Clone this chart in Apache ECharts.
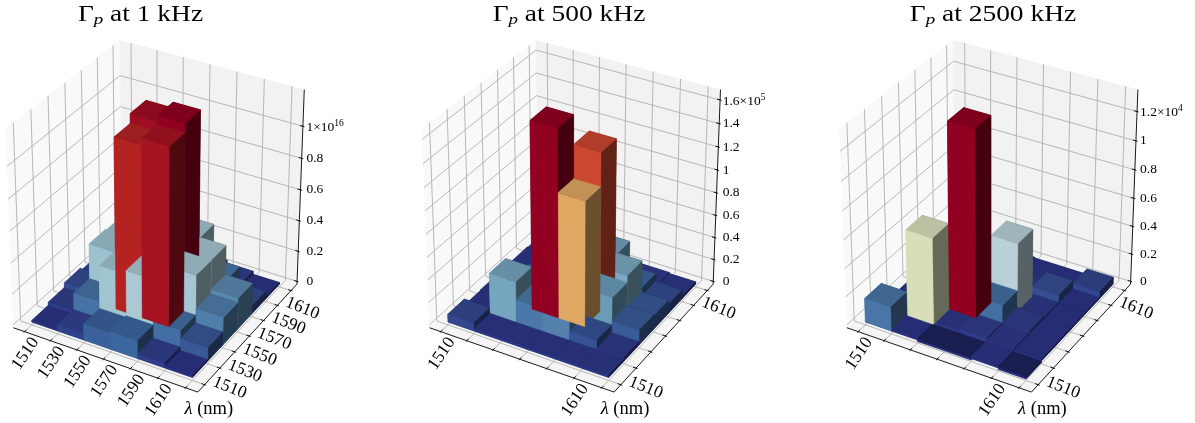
<!DOCTYPE html>
<html><head><meta charset="utf-8">
<style>html,body{margin:0;padding:0;background:#fff}#c{width:1195px;height:423px}</style>
<script src="https://cdn.jsdelivr.net/npm/echarts@6/dist/echarts.min.js"></script>
</head><body><div id="c"></div>
<script>
// ---------- values (rows: y index front to back, columns: x index left to right)
const gamma1kHz = [
  [.01,.04,.105,.115,.03,.01],
  [.03,.145,.38,.405,.135,.085],
  [.06,.37,1.09,1.13,.39,.175],
  [.04,.36,1.15,1.185,.39,.2],
  [.015,.05,.31,.38,.155,.05],
  [.01,.02,.05,.05,.03,.01]
];
const gamma500kHz = [
  [.07,.02,.02,.02,.02,.02],
  [.015,.38,.22,.25,.10,.03],
  [.02,.03,1.64,1.10,.34,.13],
  [.02,.13,.20,1.39,.40,.12],
  [.02,.03,.15,.37,.15,.08],
  [.01,.02,.02,.03,.03,.02]
];
const gamma2500kHz = [
  [.17,.01,-.01,-.01,.01,-.01],
  [.005,.61,.02,.03,.02,.01],
  [.01,.02,1.305,.15,.03,.01],
  [.01,.02,.03,.485,.02,.01],
  [.01,.01,.02,.02,.07,.01],
  [.01,.01,.015,.01,.01,.05]
];
const titles = ['1 kHz','500 kHz','2500 kHz'];
const ticks1kHz = ['1510','1530','1550','1570','1590','1610',''];
const ticksSparse = ['1510','','','','','1610',''];
const zTicks1kHz = [0,.2,.4,.6,.8,1];
const zTicks500kHz = [0,.2,.4,.6,.8,1,1.2,1.4,1.6];
const zTicks2500kHz = [0,.2,.4,.6,.8,1,1.2];
const zExponents = ['16','5','4'];
const zTops = [1.2,1.653,1.32];

// ---------- layout
const SX=2045, SY=2179, CX=[157.4,573.6,991], CY=209.8, PANEL_W=[400,400,395], PANEL_L=[0,400,800];
const TITLE_X=[140.5,569,993];
const MARGIN=0.3, NX=6, PAD=1/48;
const RAMP=['#313695','#4575b4','#74add1','#abd9e9','#e0f3f8','#ffffbf','#fee090','#fdae61','#f46d43','#d73027','#a50026'];
const FONT='"Liberation Serif"';

// ---------- projection: elevation 30, azimuth -60, distance 10, unit box
const rad=Math.PI/180, el=30*rad, az=-60*rad;
const w=[Math.cos(el)*Math.cos(az),Math.cos(el)*Math.sin(az),Math.sin(el)];
const u=[-w[1],w[0],0].map(v=>v/Math.hypot(w[0],w[1]));
const v=[w[1]*u[2]-w[2]*u[1],w[2]*u[0]-w[0]*u[2],w[0]*u[1]-w[1]*u[0]];
const dot=(a,b)=>a[0]*b[0]+a[1]*b[1]+a[2]*b[2];
function project(n){
  const q=[n[0]-.5,n[1]-.5,n[2]-.5], d=10-dot(w,q);
  return {X:dot(u,q)/d,Y:dot(v,q)/d,depth:-10/d};
}
const nxy=t=>(t+MARGIN)/(NX+2*MARGIN);
function hexRgb(h){return [1,3,5].map(i=>parseInt(h.substr(i,2),16));}
function colormap(t){
  t=Math.max(0,Math.min(1,t))*(RAMP.length-1);
  const i=Math.min(Math.floor(t),RAMP.length-2),f=t-i,a=hexRgb(RAMP[i]),b=hexRgb(RAMP[i+1]);
  return a.map((c,k)=>c+(b[k]-c)*f);
}
const light=[-2/3,-2/3,1/3];
const shadeOf=nrm=>.3+.7*(dot(nrm,light)+1)/2;
function buildFaces(values,zTop){
  const zLo=.005*zTop, nz=z=>(z-zLo)/(zTop-zLo);
  const maxV=Math.max(...values.flat());
  const out=[];
  values.forEach((row,j)=>row.forEach((val,i)=>{
    const x0=nxy(i),x1=nxy(i+1),y0=nxy(j),y1=nxy(j+1),z0=nz(0),z1=nz(val);
    const rgb=colormap(val/maxV);
    [
      [[[x0,y0,z0],[x0,y1,z0],[x1,y1,z0],[x1,y0,z0]],[0,0,-1]],
      [[[x0,y0,z1],[x1,y0,z1],[x1,y1,z1],[x0,y1,z1]],[0,0,1]],
      [[[x0,y0,z0],[x1,y0,z0],[x1,y0,z1],[x0,y0,z1]],[0,-1,0]],
      [[[x0,y1,z0],[x0,y1,z1],[x1,y1,z1],[x1,y1,z0]],[0,1,0]],
      [[[x0,y0,z0],[x0,y0,z1],[x0,y1,z1],[x0,y1,z0]],[-1,0,0]],
      [[[x1,y0,z0],[x1,y1,z0],[x1,y1,z1],[x1,y0,z1]],[1,0,0]]
    ].forEach(([poly,nrm])=>{
      const p=poly.map(project), s=shadeOf(nrm);
      out.push({pts:p.map(a=>[a.X,a.Y]),depth:p.reduce((t,a)=>t+a.depth,0)/4,
        fill:'rgb('+rgb.map(c=>Math.round(c*s)).join(',')+')'});
    });
  }));
  return out.map((f,k)=>[f,k]).sort((a,b)=>b[0].depth-a[0].depth||a[1]-b[1]).map(a=>a[0]);
}
function buildGuides(zTicks,zTop){
  const zLo=.005*zTop,nz=z=>(z-zLo)/(zTop-zLo),lo=-PAD,hi=1+PAD,g=[];
  const P=(a,fill)=>g.push({pts:a.map(project).map(p=>[p.X,p.Y]),fill});
  const L=(a,stroke,lw)=>g.push({pts:a.map(project).map(p=>[p.X,p.Y]),stroke,lw});
  P([[lo,lo,lo],[lo,hi,lo],[lo,hi,hi],[lo,lo,hi]],'#f9f9f9');
  P([[lo,hi,lo],[hi,hi,lo],[hi,hi,hi],[lo,hi,hi]],'#f2f2f2');
  P([[lo,lo,lo],[hi,lo,lo],[hi,hi,lo],[lo,hi,lo]],'#f5f5f5');
  const GC='#b0b0b0', TD=1/12;
  for(let t=0;t<=NX;t++){
    const n=nxy(t);
    L([[n,lo,lo],[n,hi,lo],[n,hi,hi]],GC,.9);
    L([[hi,n,lo],[lo,n,lo],[lo,n,hi]],GC,.9);
  }
  zTicks.forEach(z=>L([[lo,lo,nz(z)],[lo,hi,nz(z)],[hi,hi,nz(z)]],GC,.9));
  L([[lo,lo,lo],[hi,lo,lo]],'#000',.9);
  L([[hi,lo,lo],[hi,hi,lo]],'#000',.9);
  L([[hi,hi,lo],[hi,hi,hi]],'#000',.9);
  for(let t=0;t<=NX;t++){
    const n=nxy(t);
    L([[n,lo-.1*TD,lo],[n,lo+.2*TD,lo]],'#000',.9);
    L([[hi+.1*TD,n,lo],[hi-.2*TD,n,lo]],'#000',.9);
  }
  zTicks.forEach(z=>L([[hi+.1*TD,hi,nz(z)],[hi-.2*TD,hi,nz(z)]],'#000',.9));
  return g;
}
function buildTexts(i,xLabels,yLabels,zTicks,zTop,exp){
  const zLo=.005*zTop,nz=z=>(z-zLo)/(zTop-zLo),lo=-PAD,hi=1+PAD,t=[];
  const at=n=>{const p=project(n);return [p.X,p.Y];};
  xLabels.forEach((s,k)=>{ if(s) t.push({p:at([nxy(k),lo,lo]),dx:1,dy:22,text:s,rot:56,size:17.5,align:'center'}); });
  yLabels.forEach((s,k)=>{ if(s) t.push({p:at([hi,nxy(k),lo]),dx:25,dy:3,text:s,rot:-22,size:17.5,align:'center'}); });
  const base=project([hi,hi,lo]);
  zTicks.forEach((z,k)=>{
    const p=project([hi,hi,nz(z)]);
    const s=String(z);
    const top=k===zTicks.length-1;
    t.push({p:[base.X,p.Y],dx:9.5,dy:0,text:top?`{n|${s}×10}{s|${exp}}`:s,rot:0,size:13.5,align:'left',rich:true});
  });
  t.push({p:at([hi,lo,lo]),dx:11,dy:17,text:'{i|λ} (nm)',rot:0,size:18.5,align:'center',rich:true});
  // panel heading, stretched sideways to the proportions of the original face
  t.push({abs:[TITLE_X[i],15],text:`Γ{p|p} at ${titles[i]}`,size:22.5,align:'center',rich:true,sx:1.22,rot:0});
  return t;
}
const rich={n:{fontFamily:FONT,fontSize:13.5,fill:'#000',color:'#000',verticalAlign:'bottom'},
  s:{fontFamily:FONT,fontSize:9.5,fill:'#000',color:'#000',verticalAlign:'top',padding:[0,0,6,0]},
  i:{fontFamily:FONT,fontSize:18.5,fontStyle:'italic',fill:'#000',color:'#000'},
  p:{fontFamily:FONT,fontSize:15.5,fontStyle:'italic',fill:'#000',color:'#000',verticalAlign:'bottom',padding:[10,0,0,0]}};

// ---------- option
const panels=[
  {values:gamma1kHz,xl:ticks1kHz,yl:ticks1kHz,zt:zTicks1kHz},
  {values:gamma500kHz,xl:ticksSparse,yl:ticksSparse,zt:zTicks500kHz},
  {values:gamma2500kHz,xl:ticksSparse,yl:ticksSparse,zt:zTicks2500kHz}
];
const grid=[],xAxis=[],yAxis=[],series=[];
panels.forEach((p,i)=>{
  const L=PANEL_L[i],W=PANEL_W[i];
  grid.push({left:L,top:0,width:W,height:423,show:false});
  xAxis.push({type:'value',gridIndex:i,show:false,min:(L-CX[i])/SX,max:(L+W-CX[i])/SX,scale:true});
  yAxis.push({type:'value',gridIndex:i,show:false,min:(CY-423)/SY,max:CY/SY,scale:true});
  const guides=buildGuides(p.zt,zTops[i]);
  const faces=buildFaces(p.values,zTops[i]);
  const texts=buildTexts(i,p.xl,p.yl,p.zt,zTops[i],zExponents[i]);
  const base={type:'custom',coordinateSystem:'cartesian2d',xAxisIndex:i,yAxisIndex:i,silent:true,animation:false,clip:false};
  series.push(Object.assign({},base,{z:1,data:guides.map((_,k)=>[k]),renderItem(par,api){
    const g=guides[par.dataIndex],pts=g.pts.map(c=>api.coord(c));
    return g.fill?{type:'polygon',shape:{points:pts},style:{fill:g.fill}}
      :{type:'polyline',shape:{points:pts},style:{fill:'none',stroke:g.stroke,lineWidth:g.lw}};
  }}));
  series.push(Object.assign({},base,{z:2,data:faces.map((_,k)=>[k]),renderItem(par,api){
    const f=faces[par.dataIndex];
    return {type:'polygon',shape:{points:f.pts.map(c=>api.coord(c))},style:{fill:f.fill,stroke:f.fill,lineWidth:.35}};
  }}));
  series.push(Object.assign({},base,{z:3,data:texts.map((_,k)=>[k]),renderItem(par,api){
    const t=texts[par.dataIndex];
    const c=t.abs?t.abs:api.coord(t.p).map((a,m)=>a+(m?t.dy:t.dx));
    const st={text:t.text,fontFamily:FONT,fontSize:t.size,fill:'#000',align:t.align,verticalAlign:'middle'};
    if(t.rich) st.rich=rich;
    return {type:'text',x:c[0],y:c[1],rotation:t.rot*rad,scaleX:t.sx||1,style:st};
  }}));
});
const chart=echarts.init(document.getElementById('c'),null,{renderer:'canvas'});
chart.setOption({animation:false,backgroundColor:'#fff',grid,xAxis,yAxis,series});
</script></body></html>
